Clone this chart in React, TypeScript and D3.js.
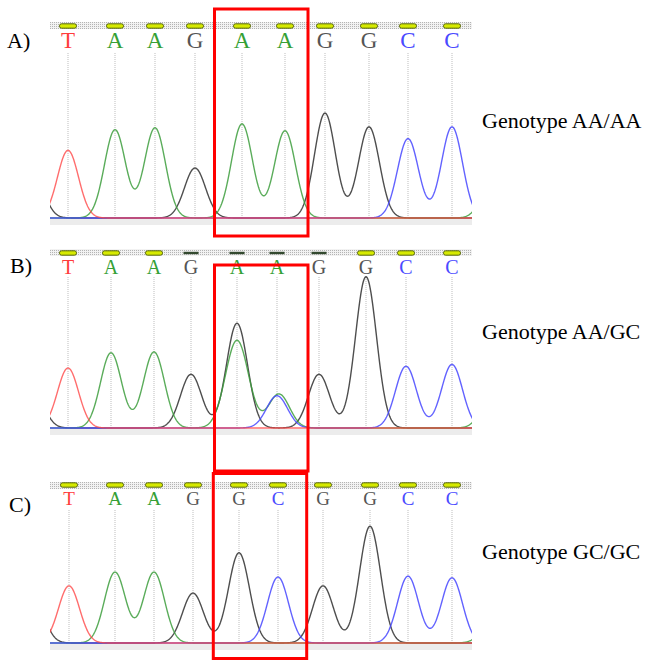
import React from "react";
import * as d3 from "d3";

// base calls for each panel
const basesA = ["T", "A", "A", "G", "A", "A", "G", "G", "C", "C"];
const basesB = ["T", "A", "A", "G", "A", "A", "G", "G", "C", "C"];
const basesC = ["T", "A", "A", "G", "G", "C", "G", "G", "C", "C"];

// scan position of every base call
const posA = [18, 65, 105, 145, 192, 235, 275, 319, 358, 402];
const posB = [18, 61, 104, 141, 187, 227, 269, 316, 356, 402];
const posC = [19, 65, 104, 143, 189, 228, 273, 320, 358, 402];

// quality bar: 1 = good (yellow), 0 = low (dark)
const qualA = [1, 1, 1, 1, 1, 1, 1, 1, 1, 1];
const qualB = [1, 1, 1, 0, 0, 0, 0, 1, 1, 1];
const qualC = [1, 1, 1, 1, 1, 1, 1, 1, 1, 1];

// trace peaks: [channel, scan position, signal, width]
const peaksA = [
  ["G", -17, 46, 10.5], ["G", 145, 51, 10.5], ["G", 275, 107, 10.5], ["G", 319, 93, 10.5],
  ["A", 65, 90, 10.5], ["A", 105, 92, 10.5], ["A", 192, 96, 10.5], ["A", 235, 89, 10.5], ["A", 442, 36, 10.5],
  ["C", 358, 81, 10.5], ["C", 402, 93, 10.5],
  ["T", 18, 69, 10.5],
];
const peaksB = [
  ["G", -17, 42, 10.5], ["G", 141, 60, 10.5], ["G", 187, 117, 10.5], ["G", 269, 60, 10.5], ["G", 316, 169, 10.5],
  ["A", 61, 84, 10.5], ["A", 104, 85, 10.5], ["A", 187, 98, 11.5], ["A", 229, 38, 10.5], ["A", 442, 36, 10.5],
  ["C", 227, 36, 10.5], ["C", 356, 69, 10.5], ["C", 402, 71, 10.5],
  ["T", 18, 67, 10.5],
];
const peaksC = [
  ["G", -17, 60, 10.5], ["G", 143, 62, 10.5], ["G", 189, 112, 10.5], ["G", 273, 71, 10.5], ["G", 320, 145, 10.5],
  ["A", 65, 88, 10.5], ["A", 104, 88, 10.5], ["A", 442, 25, 10.5],
  ["C", 228, 82, 10.5], ["C", 358, 83, 10.5], ["C", 402, 81, 10.5],
  ["T", 19, 71, 10.5],
];

// highlighted region (scan units) per panel
const boxScans = [[164.5, 258], [164.5, 258], [163.3, 256.7]];

const panelLabels = ["A)", "B)", "C)"];
const genotypes = ["Genotype AA/AA", "Genotype AA/GC", "Genotype GC/GC"];

const TRACE_COLOUR: Record<string, string> = {
  G: "#2f2f2f",
  A: "#3d9e3d",
  C: "#4646ff",
  T: "#ff4848",
};
const LETTER_COLOUR: Record<string, string> = {
  G: "#555555",
  A: "#35a035",
  C: "#4a4aff",
  T: "#ff3b3b",
};
const CHANNEL_ORDER = ["G", "A", "C", "T"];
const SERIF = "'Liberation Serif', 'Times New Roman', Times, serif";

// vertical layout of each panel (the three were pasted at different heights)
const LAYOUT = [
  { top: 22, qualY: 26, letterY: 48, font: 23, dotTop: 53, base: 218, boxTop: 9, boxBottom: 236, labelX: 7, labelY: 48, genoY: 128 },
  { top: 249, qualY: 253, letterY: 274, font: 20, dotTop: 277, base: 428, boxTop: 265, boxBottom: 471, labelX: 10, labelY: 273, genoY: 339 },
  { top: 482, qualY: 485, letterY: 505, font: 19, dotTop: 510, base: 643, boxTop: 473.5, boxBottom: 658.5, labelX: 9, labelY: 512, genoY: 559 },
];

const LEFT = 50;
const RIGHT = 472;

const x = d3.scaleLinear().domain([0, 422]).range([LEFT, RIGHT]);

const Panel = ({ idx, bases, pos, qual, peaks }: any) => {
  const L = LAYOUT[idx];
  const y = d3.scaleLinear().domain([0, 200]).range([L.base, L.top]);
  const scans = d3.range(-5, 427, 0.5);
  const line = d3.line<number[]>().x(d => x(d[0])).y(d => y(d[1])).curve(d3.curveLinear);

  const traces = CHANNEL_ORDER.map(ch => {
    const ps = peaks.filter((p: any) => p[0] === ch);
    const pts = scans.map(s => [
      s,
      d3.sum(ps, (p: any) => p[2] * Math.exp(-((s - p[1]) ** 2) / (2 * p[3] * p[3]))),
    ]);
    return { ch, d: line(pts as any) };
  });

  const clipId = `clip${idx}`;
  const [b0, b1] = boxScans[idx];
  return (
    <g>
      <defs>
        <clipPath id={clipId}>
          <rect x={LEFT} y={L.top - 40} width={RIGHT - LEFT} height={L.base - L.top + 41} />
        </clipPath>
      </defs>
      {/* dotted strip on top */}
      <rect x={LEFT} y={L.top} width={RIGHT - LEFT} height={7} fill="url(#dots)" />
      {/* grey strip under baseline */}
      <rect x={LEFT} y={L.base + 1} width={RIGHT - LEFT} height={6} fill="#ececec" />
      {/* vertical guides */}
      {pos.map((p: number, i: number) => (
        <line key={"g" + i} x1={x(p)} x2={x(p)} y1={L.dotTop} y2={L.base}
          stroke="#bdbdbd" strokeWidth={1} strokeDasharray="1,1" />
      ))}
      {/* quality bars */}
      {pos.map((p: number, i: number) =>
        qual[i] ? (
          <rect key={"q" + i} x={x(p) - 8.5} y={L.qualY - 2.2} width={17} height={4.4} rx={2}
            fill="#d6ea00" stroke="#56660e" strokeWidth={1} />
        ) : (
          <rect key={"q" + i} x={x(p) - 7.5} y={L.qualY - 1.2} width={15} height={2.4}
            fill="#33492f" />
        )
      )}
      {/* base letters */}
      {bases.map((b: string, i: number) => (
        <text key={"b" + i} x={x(pos[i])} y={L.letterY} textAnchor="middle"
          style={{ fontFamily: SERIF, fontSize: L.font }} fill={LETTER_COLOUR[b]}>
          {b}
        </text>
      ))}
      {/* traces */}
      <g clipPath={`url(#${clipId})`}>
        {traces.map(t => (
          <path key={t.ch} d={t.d as string} fill="none" stroke={TRACE_COLOUR[t.ch]}
            strokeWidth={1.4} strokeOpacity={t.ch === "T" ? 0.8 : 0.85} />
        ))}
      </g>
      {/* highlight box */}
      <rect x={x(b0)} y={L.boxTop} width={x(b1) - x(b0)}
        height={L.boxBottom - L.boxTop} fill="none" stroke="#ff0000" strokeWidth={3} />
      <text x={L.labelX} y={L.labelY} style={{ fontFamily: SERIF, fontSize: 22 }} fill="#000">
        {panelLabels[idx]}
      </text>
      <text x={482} y={L.genoY} style={{ fontFamily: SERIF, fontSize: 22 }} fill="#000">
        {genotypes[idx]}
      </text>
    </g>
  );
};

export default function App() {
  return (
    <svg width={645} height={661} style={{ position: "absolute", left: 0, top: 0, background: "#fff" }}>
      <defs>
        <pattern id="dots" width={2} height={2} patternUnits="userSpaceOnUse">
          <rect width={2} height={2} fill="#f2f2f2" />
          <rect width={1} height={1} fill="#b4b4b4" />
        </pattern>
      </defs>
      <rect width={645} height={661} fill="#fff" />
      <Panel idx={0} bases={basesA} pos={posA} qual={qualA} peaks={peaksA} />
      <Panel idx={1} bases={basesB} pos={posB} qual={qualB} peaks={peaksB} />
      <Panel idx={2} bases={basesC} pos={posC} qual={qualC} peaks={peaksC} />
    </svg>
  );
}
